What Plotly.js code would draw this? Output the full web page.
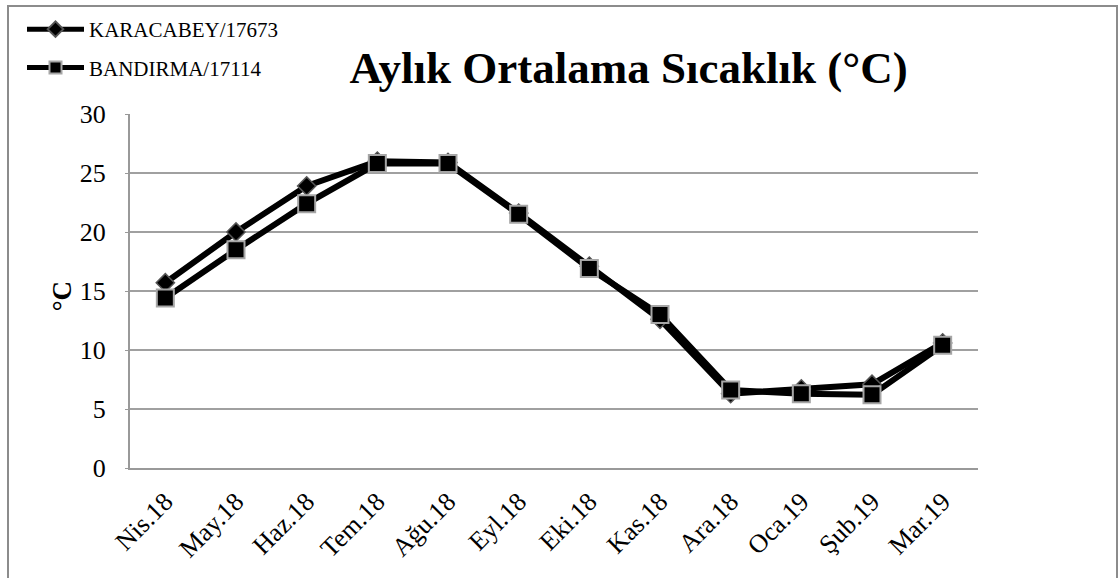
<!DOCTYPE html>
<html>
<head>
<meta charset="utf-8">
<script src="https://cdn.plot.ly/plotly-3.0.1.min.js"></script>
<style>
html,body{margin:0;padding:0;background:#fff;}
#chart{width:1119px;height:578px;}
</style>
</head>
<body>
<div id="chart"></div>
<script>
const months = ["Nis.18","May.18","Haz.18","Tem.18","Ağu.18","Eyl.18","Eki.18","Kas.18","Ara.18","Oca.19","Şub.19","Mar.19"];
const karacabey = [15.7, 20.0, 23.9, 26.0, 25.9, 21.6, 17.1, 12.6, 6.3, 6.7, 7.1, 10.6];
const bandirma  = [14.4, 18.5, 22.4, 25.8, 25.8, 21.5, 16.9, 13.0, 6.6, 6.3, 6.2, 10.4];
const seriesNames = ["KARACABEY/17673", "BANDIRMA/17114"];
const chartTitle = "Aylık Ortalama Sıcaklık (°C)";
const yTitle = "°C";

const serif = "Liberation Serif, Times New Roman, serif";

const traces = [
  {
    x: months, y: karacabey, name: seriesNames[0], type: "scatter", mode: "lines+markers",
    line: {color: "#000", width: 6},
    marker: {symbol: "diamond", size: 14, color: "#000", line: {color: "#555", width: 1.5}},
    legendgroup: "a"
  },
  {
    x: months, y: bandirma, name: seriesNames[1], type: "scatter", mode: "lines+markers",
    line: {color: "#000", width: 6},
    marker: {symbol: "square", size: 17, color: "#000", line: {color: "#a6a6a6", width: 2}},
    legendgroup: "b"
  }
];

const layout = {
  width: 1119, height: 578,
  margin: {l: 130, r: 141, t: 114, b: 110, autoexpand: false},
  paper_bgcolor: "#fff", plot_bgcolor: "#fff",
  font: {family: serif, color: "#000"},
  title: {
    text: "<b>" + chartTitle + "</b>",
    font: {family: serif, size: 45, color: "#000"},
    x: 0.588, xanchor: "center", xref: "paper",
    y: 0.884, yanchor: "middle", yref: "container"
  },
  showlegend: true,
  legend: {
    x: 22/1119, y: 1 - 9/578, xref: "container", yref: "container",
    xanchor: "left", yanchor: "top",
    font: {family: serif, size: 21, color: "#000"},
    traceorder: "grouped", tracegroupgap: 8,
    itemwidth: 57, itemsizing: "constant", bgcolor: "rgba(0,0,0,0)"
  },
  xaxis: {
    type: "category",
    tickangle: -45,
    tickfont: {family: serif, size: 26, color: "#000"},
    showgrid: false, showline: true, linecolor: "#999", linewidth: 2,
    ticks: "", ticklabelstandoff: 6, range: [-0.5, 11.5], fixedrange: true
  },
  yaxis: {
    range: [0, 30], dtick: 5,
    tickfont: {family: serif, size: 26, color: "#000"},
    showgrid: true, gridcolor: "#a0a0a0", gridwidth: 1.5,
    showline: true, linecolor: "#999", linewidth: 2,
    zeroline: false, ticks: "outside", ticklen: 3, tickcolor: "#999",
    ticklabelstandoff: 14
  },
  annotations: [
    {text: "<b>" + yTitle + "</b>", xref: "paper", yref: "paper",
     x: (62-130)/848, y: 0.485, xanchor: "center", yanchor: "middle",
     textangle: -90, showarrow: false,
     font: {family: serif, size: 27, color: "#000"}}
  ],
  shapes: [
    {type: "rect", xref: "paper", yref: "paper",
     x0: (8-130)/848, x1: (1117-130)/848, y0: (468-600)/354, y1: (468-6)/354,
     line: {color: "#8c8c8c", width: 2}, fillcolor: "rgba(0,0,0,0)", layer: "below"}
  ]
};

Plotly.newPlot("chart", traces, layout, {displayModeBar: false, staticPlot: true});
</script>
</body>
</html>
